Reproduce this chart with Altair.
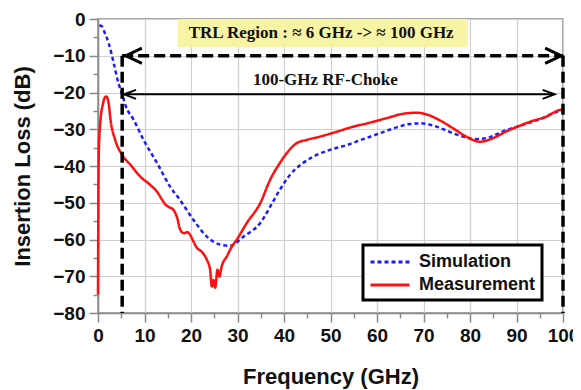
import altair as alt
import pandas as pd

# ---------------- data ----------------
sim_freq = [0.3, 0.9, 1.2, 2.3, 3.4, 4.4, 5.2, 6.0, 7.7, 9.8, 12.7, 15.5, 17.5,
            20.5, 23.4, 26.3, 28.4, 31.3, 34.9, 37.5, 39.1, 41.3, 44.1, 47.0,
            49.9, 53.5, 57.0, 60.6, 64.2, 67.0, 69.5, 72.8, 75.6, 78.5, 81.4,
            84.2, 87.1, 90.6, 94.9, 98.9, 100.0]
sim_db = [-1.7, -2.1, -3.0, -6.6, -12.1, -17.5, -20.5, -23.8, -27.5, -32.9, -39.2,
          -45.6, -49.0, -54.6, -59.2, -61.4, -61.7, -59.2, -55.5, -50.0, -46.5,
          -42.4, -39.2, -37.0, -35.6, -34.3, -32.7, -31.1, -29.5, -28.6, -28.4,
          -29.3, -30.7, -32.0, -32.7, -32.2, -30.6, -29.1, -27.3, -25.2, -24.9]

meas_freq = [0.0, 0.1, 0.2, 0.5, 1.0, 1.5, 1.8, 2.3, 2.7, 3.7, 5.2, 7.0, 9.1, 11.2,
             12.7, 13.8, 14.5, 15.3, 16.2, 17.0, 17.7, 18.5, 19.2, 19.8, 20.5,
             21.3, 22.3, 23.4, 24.1, 24.5, 24.8, 25.2, 25.7, 26.1, 26.6, 27.7,
             28.8, 29.8, 32.0, 34.9, 37.0, 39.1, 40.6, 42.7, 44.9, 47.7, 51.3,
             54.9, 58.5, 62.0, 65.6, 68.5, 70.5, 73.4, 76.3, 79.2, 82.1, 85.0,
             87.8, 90.6, 93.5, 96.4, 98.9, 100.0]
meas_db = [-75.0, -45.0, -35.0, -28.0, -23.5, -21.3, -21.1, -23.0, -27.5, -32.9,
           -37.0, -39.7, -42.9, -45.1, -47.0, -49.2, -50.5, -51.2, -51.9, -54.0,
           -57.4, -58.3, -58.0, -58.7, -60.5, -62.3, -63.3, -65.5, -68.2, -72.8,
           -71.0, -73.1, -68.2, -70.1, -67.3, -64.6, -61.9, -60.1, -55.5, -50.1,
           -43.8, -39.2, -36.5, -33.8, -32.9, -32.0, -30.7, -29.3, -28.2, -27.0,
           -25.8, -25.5, -25.9, -27.5, -29.7, -32.0, -33.4, -32.4, -30.6, -29.1,
           -27.7, -26.6, -24.9, -24.6]

series_names = ["Simulation", "Measurement"]
series_colors = ["#1c1cff", "#ff1010"]

x_major = list(range(0, 101, 10))
x_minor = list(range(5, 100, 10))
y_major = list(range(-80, 1, 10))
y_minor = list(range(-75, 0, 10))

# annotation geometry in data units
trl_box_x = [17.1, 79.5]
trl_box_y = [0.0, -7.7]
trl_text = "TRL Region : \u2248 6 GHz -> \u2248 100 GHz"
trl_text_pos = [48.0, -3.8]
choke_text = "100-GHz RF-Choke"
choke_text_pos = [48.9, -16.6]
trl_x = [5.2, 100.0]       # TRL dashed bracket: left / right frequency
trl_level = [-10.0, -80.0]  # top / bottom of the bracket
trl_tips = [6.0, 99.6]
choke_x = [5.6, 98.2]
choke_level = -20.5

# ---------------- frames ----------------
lines_df = pd.concat([
    pd.DataFrame({"f": sim_freq, "db": sim_db, "series": "Simulation", "order": range(len(sim_freq))}),
    pd.DataFrame({"f": meas_freq, "db": meas_db, "series": "Measurement", "order": range(len(meas_freq))}),
])

xscale = alt.Scale(domain=[0, 100], nice=False, zero=False)
yscale = alt.Scale(domain=[-80, 0], nice=False, zero=False)

x_axis = alt.Axis(
    values=x_major, tickCount=30, tickSize=9, title="Frequency (GHz)",
    titleY=70, titleBaseline="alphabetic",
    labelPadding=4, labelOverlap=False, labelFlush=False,
)
y_axis = alt.Axis(
    values=y_major, tickCount=30, tickSize=9, title="Insertion Loss (dB)",
    titleX=-76, titleY=147, titleAngle=-90, titleAlign="center", titleBaseline="middle",
    labelPadding=4, labelOverlap=False, labelFlush=False,
)

legend = alt.Legend(title=None, orient="none", legendX=265, legendY=226)

lines = alt.Chart(lines_df).mark_line(strokeWidth=2.5, interpolate="monotone").encode(
    x=alt.X("f:Q", scale=xscale, axis=x_axis),
    y=alt.Y("db:Q", scale=yscale, axis=y_axis),
    color=alt.Color("series:N", scale=alt.Scale(domain=series_names, range=series_colors), legend=legend),
    strokeDash=alt.StrokeDash("series:N", scale=alt.Scale(domain=series_names, range=[[4, 3], [1, 0]]), legend=legend),
    order="order:Q",
)

# minor-tick axes (no labels, no grid)
minor_df = pd.DataFrame({"x": x_minor, "y": y_minor + [y_minor[-1]] * (len(x_minor) - len(y_minor))})
minor = alt.Chart(minor_df).mark_point(opacity=0).encode(
    x=alt.X("x:Q", scale=xscale, axis=alt.Axis(values=x_minor, tickCount=30, tickSize=5, labels=False,
                                               grid=False, domain=False, title=None, orient="bottom")),
    y=alt.Y("y:Q", scale=yscale, axis=alt.Axis(values=y_minor, tickCount=30, tickSize=5, labels=False,
                                               grid=False, domain=False, title=None, orient="left")),
)

box_df = pd.DataFrame({"x": [trl_box_x[0]], "x2": [trl_box_x[1]], "y": [trl_box_y[0]], "y2": [trl_box_y[1]]})
box = alt.Chart(box_df).mark_rect(color="#f8f4a6").encode(
    x=alt.X("x:Q", scale=xscale), x2="x2:Q", y=alt.Y("y:Q", scale=yscale), y2="y2:Q")

text_df = pd.DataFrame({"x": [trl_text_pos[0], choke_text_pos[0]],
                        "y": [trl_text_pos[1], choke_text_pos[1]],
                        "t": [trl_text, choke_text]})
texts = alt.Chart(text_df).mark_text(font="Liberation Serif", fontWeight="bold", fontSize=17,
                                     color="#111111", align="center", baseline="middle").encode(
    x=alt.X("x:Q", scale=xscale), y=alt.Y("y:Q", scale=yscale), text="t:N")

dash_df = pd.DataFrame({
    "x": [trl_x[0], trl_x[0], trl_x[1]],
    "x2": [trl_x[1], trl_x[0], trl_x[1]],
    "y": [trl_level[0], trl_level[0], trl_level[0]],
    "y2": [trl_level[0], trl_level[1], trl_level[1]],
})
dashes = alt.Chart(dash_df).mark_rule(color="black", strokeWidth=3.5, strokeDash=[11, 5]).encode(
    x=alt.X("x:Q", scale=xscale), x2="x2:Q", y=alt.Y("y:Q", scale=yscale), y2="y2:Q")

choke_df = pd.DataFrame({"x": [choke_x[0]], "x2": [choke_x[1]], "y": [choke_level], "y2": [choke_level]})
choke = alt.Chart(choke_df).mark_rule(color="black", strokeWidth=2).encode(
    x=alt.X("x:Q", scale=xscale), x2="x2:Q", y=alt.Y("y:Q", scale=yscale), y2="y2:Q")

def head(xv, yv, path, size, sw):
    d = pd.DataFrame({"x": [xv], "y": [yv]})
    return alt.Chart(d).mark_point(shape=path, size=size, filled=False, color="black",
                                   strokeWidth=sw, opacity=1).encode(
        x=alt.X("x:Q", scale=xscale), y=alt.Y("y:Q", scale=yscale))

heads = [
    head(trl_tips[0], trl_level[0], "M 2 -0.95 L 0 0 L 2 0.95", 256, 3),
    head(trl_tips[1], trl_level[0], "M -2 -0.95 L 0 0 L -2 0.95", 256, 3),
    head(choke_x[0], choke_level, "M 2 -0.75 L 0 0 L 2 0.75", 144, 2),
    head(choke_x[1], choke_level, "M -2 -0.75 L 0 0 L -2 0.75", 144, 2),
]

main = alt.layer(lines, box, texts, dashes, choke, *heads)

chart = alt.layer(main, minor).resolve_axis(x="independent", y="independent").properties(
    width=465, height=294,
    autosize=alt.AutoSizeParams(type="none"),
    padding={"left": 90, "top": 11, "right": 10, "bottom": 76},
).configure_view(
    stroke="#8a8a8a", strokeWidth=1.5,
).configure_axis(
    labelFont="Liberation Sans", labelFontWeight="bold", labelFontSize=19, labelColor="#111111",
    titleFont="Liberation Sans", titleFontWeight="bold", titleFontSize=22, titleColor="#111111",
    domainColor="#8a8a8a", domainWidth=1.5, tickColor="#8a8a8a", tickWidth=1.5,
    gridColor="#cfcfcf", gridWidth=1.2, labelOverlap=False,
).configure_legend(
    labelFont="Liberation Sans", labelFontWeight="bold", labelFontSize=18, labelColor="#111111",
    symbolType="M -1 0 L 3.1 0", symbolSize=361, symbolStrokeWidth=3, labelOffset=28,
    strokeColor="black", strokeWidth=3, fillColor="white", padding=6, rowPadding=3,
    cornerRadius=0,
)

chart.save("out.html", embed_options={"renderer": "svg", "actions": False})
